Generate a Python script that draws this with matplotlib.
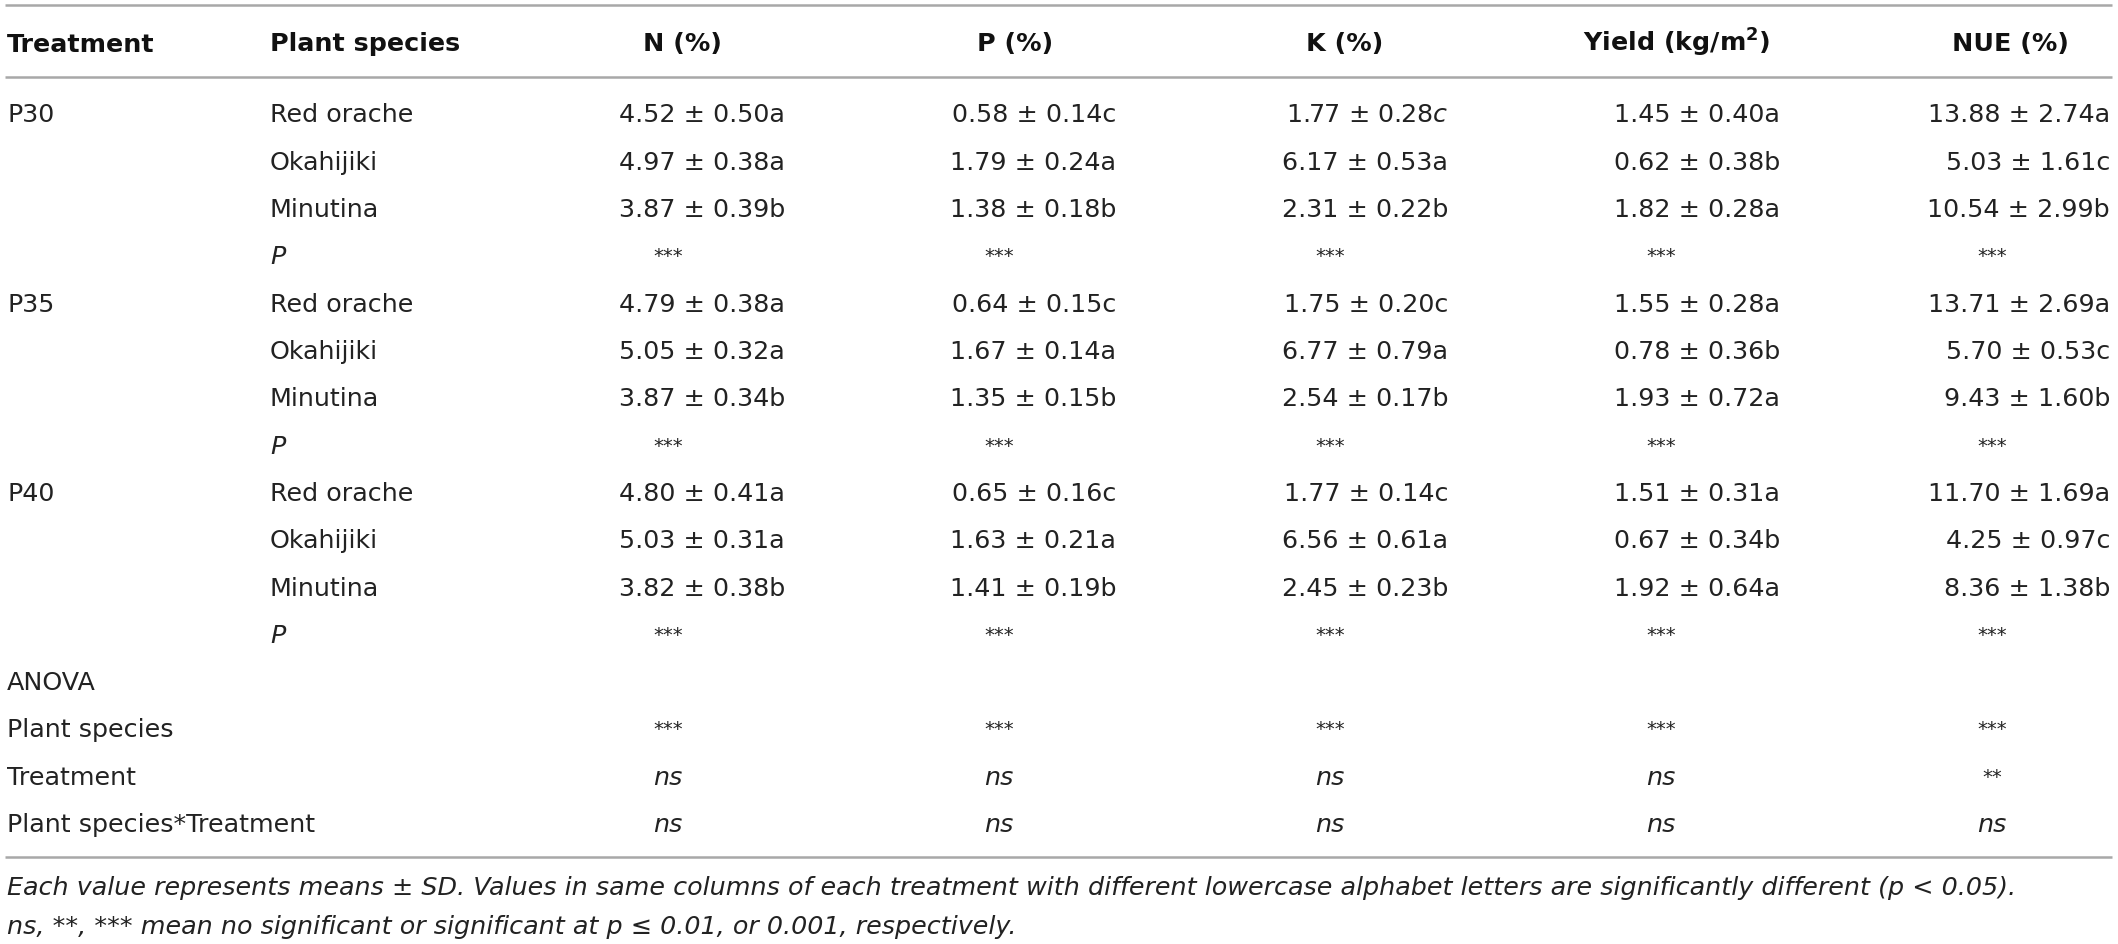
import matplotlib
matplotlib.use("Agg")
import matplotlib.pyplot as plt

# --- table content ---
TREATMENTS = ["P30", "P35", "P40"]
SPECIES = ["Red orache", "Okahijiki", "Minutina"]
HEADERS = ["Treatment", "Plant species", "N (%)", "P (%)", "K (%)",
           r"Yield (kg/m$^{\mathbf{2}}$)", "NUE (%)"]

# rows: treatment, cols: species
N_MEAN = [[4.52, 4.97, 3.87], [4.79, 5.05, 3.87], [4.80, 5.03, 3.82]]
N_SD = [[0.50, 0.38, 0.39], [0.38, 0.32, 0.34], [0.41, 0.31, 0.38]]
N_LET = ["aab", "aab", "aab"]

P_MEAN = [[0.58, 1.79, 1.38], [0.64, 1.67, 1.35], [0.65, 1.63, 1.41]]
P_SD = [[0.14, 0.24, 0.18], [0.15, 0.14, 0.15], [0.16, 0.21, 0.19]]
P_LET = ["cab", "cab", "cab"]

K_MEAN = [[1.77, 6.17, 2.31], [1.75, 6.77, 2.54], [1.77, 6.56, 2.45]]
K_SD = [[0.28, 0.53, 0.22], [0.20, 0.79, 0.17], [0.14, 0.61, 0.23]]
K_LET = ["cab", "cab", "cab"]

YIELD_MEAN = [[1.45, 0.62, 1.82], [1.55, 0.78, 1.93], [1.51, 0.67, 1.92]]
YIELD_SD = [[0.40, 0.38, 0.28], [0.28, 0.36, 0.72], [0.31, 0.34, 0.64]]
YIELD_LET = ["aba", "aba", "aba"]

NUE_MEAN = [[13.88, 5.03, 10.54], [13.71, 5.70, 9.43], [11.70, 4.25, 8.36]]
NUE_SD = [[2.74, 1.61, 2.99], [2.69, 0.53, 1.60], [1.69, 0.97, 1.38]]
NUE_LET = ["acb", "acb", "acb"]

# letter printed in italics in the source (column, treatment, species)
ITALIC_LETTERS = {(2, 0, 0)}

P_ROW_SIG = ["***", "***", "***", "***", "***"]

ANOVA_LABELS = ["Plant species", "Treatment", "Plant species*Treatment"]
ANOVA_SIG = [["***", "***", "***", "***", "***"],
             ["ns", "ns", "ns", "ns", "**"],
             ["ns", "ns", "ns", "ns", "ns"]]

FOOTNOTES = [
    "Each value represents means \u00b1 SD. Values in same columns of each treatment "
    "with different lowercase alphabet letters are significantly different (p < 0.05).",
    "ns, **, *** mean no significant or significant at p \u2264 0.01, or 0.001, respectively.",
]

# --- layout (pixels, baselines) ---
W, H = 2118, 944
FS = 18.3
STAR_FS = 14
TXT = "#222222"
RULE = "#a8a8a8"
X_TREAT, X_SPEC = 7, 270
HEAD_X = [682, 1015, 1345, 1677, 2010]
VAL_RIGHT = [785, 1116, 1448, 1780, 2110]
SIG_X = [668, 999, 1330, 1661, 1992]
Y_HEAD = 51.5
Y_ROW0, DY = 122.5, 47.3
Y_NOTES = [895, 934]

plt.rcParams["font.family"] = ["DejaVu Sans"]
plt.rcParams["mathtext.fontset"] = "dejavusans"

fig = plt.figure(figsize=(W / 100, H / 100), dpi=100)
ax = fig.add_axes([0, 0, 1, 1])
ax.set_xlim(0, W)
ax.set_ylim(H, 0)
ax.axis("off")

# rules
for y in (5, 77, 857):
    ax.plot([5, 2112], [y, y], color=RULE, lw=1.8, solid_capstyle="butt")


def cell(x, y, s, ha="left", **kw):
    kw.setdefault("fontsize", FS)
    kw.setdefault("color", TXT)
    ax.text(x, y, s, ha=ha, va="baseline", **kw)


def sig_cell(x, y, s):
    if s == "ns":
        cell(x, y, s, ha="center", style="italic")
    else:
        cell(x, y - 2, s, ha="center", fontsize=STAR_FS)


# header
cell(X_TREAT, Y_HEAD, HEADERS[0], fontweight="bold", color="#111111")
cell(X_SPEC, Y_HEAD, HEADERS[1], fontweight="bold", color="#111111")
for x, h in zip(HEAD_X, HEADERS[2:]):
    cell(x, Y_HEAD, h, ha="center", fontweight="bold", color="#111111")

cols = [(N_MEAN, N_SD, N_LET), (P_MEAN, P_SD, P_LET), (K_MEAN, K_SD, K_LET),
        (YIELD_MEAN, YIELD_SD, YIELD_LET), (NUE_MEAN, NUE_SD, NUE_LET)]

row = 0
for t, treat in enumerate(TREATMENTS):
    cell(X_TREAT, Y_ROW0 + row * DY, treat)
    for s, sp in enumerate(SPECIES):
        y = Y_ROW0 + row * DY
        cell(X_SPEC, y, sp)
        for c, (mean, sd, let) in enumerate(cols):
            letter = let[t][s]
            if (c, t, s) in ITALIC_LETTERS:
                letter = r"$\mathit{" + letter + "}$"
            label = f"{mean[t][s]:.2f} \u00b1 {sd[t][s]:.2f}" + letter
            cell(VAL_RIGHT[c], y, label, ha="right")
        row += 1
    y = Y_ROW0 + row * DY
    cell(X_SPEC, y, "P", style="italic")
    for c, sig in enumerate(P_ROW_SIG):
        sig_cell(SIG_X[c], y, sig)
    row += 1

cell(X_TREAT, Y_ROW0 + row * DY, "ANOVA")
row += 1
for lab, sigs in zip(ANOVA_LABELS, ANOVA_SIG):
    y = Y_ROW0 + row * DY
    cell(X_TREAT, y, lab)
    for c, sig in enumerate(sigs):
        sig_cell(SIG_X[c], y, sig)
    row += 1

for y, note in zip(Y_NOTES, FOOTNOTES):
    cell(X_TREAT, y, note, style="italic")

fig.savefig("out.png", dpi=100)
